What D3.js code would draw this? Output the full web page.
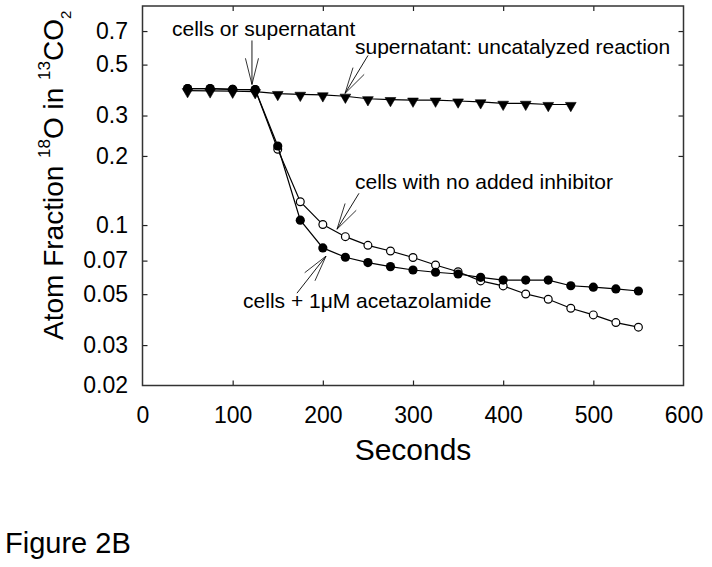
<!DOCTYPE html>
<html>
<head>
<meta charset="utf-8">
<script src="https://cdn.jsdelivr.net/npm/d3@7"></script>
<style>
  html, body { margin: 0; padding: 0; background: #fff; }
  svg { display: block; }
  text { font-family: "Liberation Sans", Arial, Helvetica, sans-serif; fill: #000; }
</style>
</head>
<body>
<svg id="chart" width="712" height="567"></svg>
<script>
// ---------- data ----------
const timeAll = [50,75,100,125,150,175,200,225,250,275,300,325,350,375,400,425,450,475,500,525,550];
const timeSuper = [50,75,100,125,150,175,200,225,250,275,300,325,350,375,400,425,450,475];
const supernatant = [0.385,0.384,0.383,0.381,0.374,0.371,0.369,0.364,0.355,0.352,0.350,0.350,0.347,0.344,0.339,0.339,0.335,0.335];
const noInhibitor = [0.393,0.393,0.390,0.389,0.214,0.1263,0.1005,0.089,0.0816,0.0771,0.0722,0.067,0.0626,0.0571,0.0543,0.0501,0.0475,0.0434,0.0406,0.0376,0.0359];
const acetazolamide = [0.393,0.393,0.390,0.389,0.221,0.105,0.0795,0.0724,0.0686,0.0659,0.0637,0.0623,0.0612,0.0592,0.0576,0.0576,0.0576,0.0544,0.0536,0.0527,0.0516];
const xTickValues = [0,100,200,300,400,500,600];
const yTickValues = [0.02,0.03,0.05,0.07,0.1,0.2,0.3,0.5,0.7];
const yTickLabels = ["0.02","0.03","0.05","0.07","0.1","0.2","0.3","0.5","0.7"];
const xDomain = [0, 600];
const yDomain = [0.02, 0.9];
// annotations in data units: label anchor (t, v), arrow tail and tip (t, v)
const annoTexts = ["cells or supernatant","supernatant: uncatalyzed reaction","cells with no added inhibitor","cells + 1\u03bcM acetazolamide"];
const annoLabelAt = [[32.7,0.669],[235.7,0.5588],[235.7,0.1435],[111.5,0.0435]];
const annoTail = [[121.4,0.637],[250.1,0.548],[240.1,0.1375],[171.3,0.0505]];
const annoTip = [[121.4,0.4096],[224.6,0.3745],[215.7,0.0959],[203.5,0.0732]];

// ---------- layout ----------
const svg = d3.select("#chart");
const L = 142.5, R = 683.5, T = 6, B = 385.5;
const x = d3.scaleLinear().domain(xDomain).range([L, R]);
const y = d3.scaleLog().domain(yDomain).range([B, T]);

// axes (ticks inward, MATLAB style)
const tickFont = 23;
const gx = svg.append("g").attr("transform", `translate(0,${B})`)
  .call(d3.axisBottom(x).tickValues(xTickValues).tickFormat(d3.format("d"))
    .tickSizeInner(-5).tickSizeOuter(0).tickPadding(21));
const gy = svg.append("g").attr("transform", `translate(${L},0)`)
  .call(d3.axisLeft(y).tickValues(yTickValues).tickFormat((d,i) => yTickLabels[i])
    .tickSizeInner(-5).tickSizeOuter(0).tickPadding(14.5));
const gt = svg.append("g").attr("transform", `translate(0,${T})`)
  .call(d3.axisTop(x).tickValues(xTickValues.slice(1,-1)).tickFormat("").tickSizeInner(-5).tickSizeOuter(0));
const gr = svg.append("g").attr("transform", `translate(${R},0)`)
  .call(d3.axisRight(y).tickValues(yTickValues.slice(1)).tickFormat("").tickSizeInner(-5).tickSizeOuter(0));
[gx, gy, gt, gr].forEach(g => {
  g.select(".domain").remove();
  g.selectAll(".tick line").attr("stroke", "#222").attr("stroke-width", 1.2);
  g.selectAll(".tick text").attr("font-size", tickFont).attr("font-family", '"Liberation Sans", Arial, sans-serif').attr("fill", "#000");
});
gx.selectAll(".tick").filter(d => d === 0 || d === 600).select("line").remove();
gy.selectAll(".tick").filter(d => d === 0.02).select("line").remove();

svg.append("rect").attr("x", L).attr("y", T).attr("width", R - L).attr("height", B - T)
  .attr("fill", "none").attr("stroke", "#333").attr("stroke-width", 1.5);

// ---------- series ----------
const line = d3.line().x(d => x(d[0])).y(d => y(d[1]));
const ptsSuper = timeSuper.map((t, i) => [t, supernatant[i]]);
const ptsOpen = timeAll.map((t, i) => [t, noInhibitor[i]]);
const ptsFilled = timeAll.map((t, i) => [t, acetazolamide[i]]);

// supernatant: downward triangles
svg.append("path").datum(ptsSuper).attr("d", line).attr("fill", "none").attr("stroke", "#000").attr("stroke-width", 1.2);
const tri = d3.symbol().type(d3.symbolTriangle).size(50);
svg.append("g").selectAll("path").data(ptsSuper).join("path")
  .attr("d", tri)
  .attr("transform", d => `translate(${x(d[0])},${y(d[1]) + 1}) rotate(180)`)
  .attr("fill", "#000").attr("stroke", "#000").attr("stroke-width", 0.6);

// no inhibitor: open circles
svg.append("path").datum(ptsOpen).attr("d", line).attr("fill", "none").attr("stroke", "#000").attr("stroke-width", 1.2);
svg.append("g").selectAll("circle").data(ptsOpen).join("circle")
  .attr("cx", d => x(d[0])).attr("cy", d => y(d[1])).attr("r", 3.9)
  .attr("fill", "#fff").attr("stroke", "#000").attr("stroke-width", 1.2);

// acetazolamide: filled circles
svg.append("path").datum(ptsFilled).attr("d", line).attr("fill", "none").attr("stroke", "#000").attr("stroke-width", 1.2);
svg.append("g").selectAll("circle").data(ptsFilled).join("circle")
  .attr("cx", d => x(d[0])).attr("cy", d => y(d[1])).attr("r", 4.6)
  .attr("fill", "#000");

// ---------- annotations ----------
const ag = svg.append("g");
annoTexts.forEach((txt, i) => {
  ag.append("text").attr("x", x(annoLabelAt[i][0])).attr("y", y(annoLabelAt[i][1]))
    .attr("font-size", 21).text(txt);
  const x0 = x(annoTail[i][0]), y0 = y(annoTail[i][1]);
  const x1 = x(annoTip[i][0]), y1 = y(annoTip[i][1]);
  ag.append("line").attr("x1", x0).attr("y1", y0).attr("x2", x1).attr("y2", y1)
    .attr("stroke", "#000").attr("stroke-width", 0.9);
  const ang = Math.atan2(y0 - y1, x0 - x1);
  const hl = 27, ha = 14 * Math.PI / 180;
  [ang - ha, ang + ha].forEach(a => {
    ag.append("line").attr("x1", x1).attr("y1", y1)
      .attr("x2", x1 + hl * Math.cos(a)).attr("y2", y1 + hl * Math.sin(a))
      .attr("stroke", "#000").attr("stroke-width", 0.8);
  });
});

// ---------- titles ----------
svg.append("text").attr("x", (L + R) / 2).attr("y", 460).attr("text-anchor", "middle")
  .attr("font-size", 30).text("Seconds");

const yt = svg.append("text").attr("transform", "translate(63,340) rotate(-90)").attr("font-size", 28);
yt.append("tspan").text("Atom Fraction ");
yt.append("tspan").attr("font-size", 17).attr("dy", -13).text("18");
yt.append("tspan").attr("dy", 13).text("O in ");
yt.append("tspan").attr("font-size", 17).attr("dy", -13).text("13");
yt.append("tspan").attr("dy", 13).text("CO");
yt.append("tspan").attr("font-size", 15).attr("dy", 8).text("2");

svg.append("text").attr("x", 5).attr("y", 553).attr("font-size", 29).text("Figure 2B");
</script>
</body>
</html>
